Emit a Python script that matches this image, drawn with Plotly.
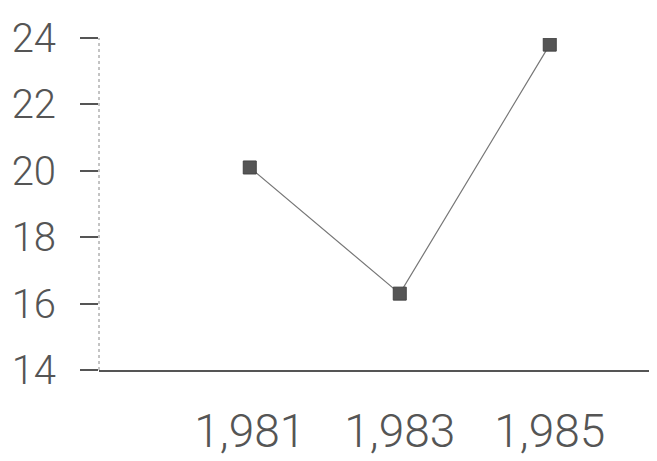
import plotly.graph_objects as go

years = [1981, 1983, 1985]
values = [20.1, 16.3, 23.8]
x_tick_labels = ["1,981", "1,983", "1,985"]
y_ticks = [14, 16, 18, 20, 22, 24]

font_family = "Roboto, Noto Sans, sans-serif"

fig = go.Figure()
fig.add_trace(go.Scatter(
    x=years, y=values, mode="lines+markers",
    line=dict(color="#777777", width=1.2),
    marker=dict(symbol="square", size=13, color="#555555",
                line=dict(color="#444444", width=1)),
    showlegend=False,
))

fig.update_layout(
    width=649, height=453,
    margin=dict(l=91, r=0, t=30, b=91),
    paper_bgcolor="white", plot_bgcolor="white",
    font=dict(family=font_family, color="#555555"),
    xaxis=dict(
        range=[1978.99, 1986.43],
        tickvals=years, ticktext=x_tick_labels,
        showgrid=False, zeroline=False,
        showline=True, linecolor="#555555", linewidth=1.5,
        ticks="", ticklabelstandoff=20, tickangle=0, automargin=False,
        tickfont=dict(size=46, family=font_family, color="#555555", weight=300),
    ),
    yaxis=dict(
        range=[14, 24], tickvals=y_ticks,
        showgrid=False, zeroline=False, showline=False,
        ticks="outside", ticklen=18, tickwidth=1.5, tickcolor="#555555",
        ticklabelstandoff=16, automargin=False,
        tickfont=dict(size=40, family=font_family, color="#555555", weight=300),
    ),
    shapes=[dict(type="line", xref="paper", yref="paper",
                 x0=0, x1=0, y0=0, y1=1,
                 line=dict(color="#888888", width=1, dash="dot"))],
)

fig.write_html("out.html")
